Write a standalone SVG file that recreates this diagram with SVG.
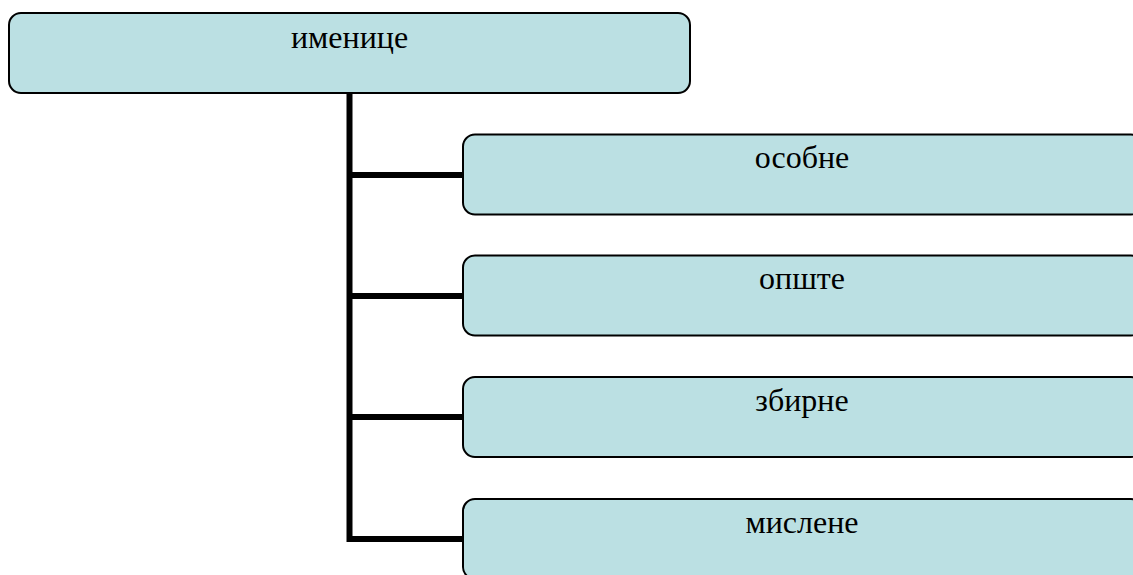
<svg xmlns="http://www.w3.org/2000/svg" width="1133" height="575" viewBox="0 0 1133 575">
<style>
.box{fill:#BBE0E3;stroke:#000;stroke-width:2}
.lbl{font-family:"Liberation Serif","Times New Roman",serif;font-size:32px;fill:#000;text-anchor:middle}
.conn{fill:none;stroke:#000;stroke-width:6}
</style>
<rect width="1133" height="575" fill="#fff"/>
<g id="connectors">
<path class="conn" d="M349.5,94 V539 M349.5,175 H463 M349.5,296 H463 M349.5,417 H463 M346.5,539 H463"/>
</g>
<g id="n0"><rect class="box" x="9" y="13" width="681" height="80" rx="12"/><text class="lbl" x="349.5" y="48">именице</text></g>
<g id="n1"><rect class="box" x="463" y="134.5" width="680" height="80" rx="12"/><text class="lbl" x="802" y="168">особне</text></g>
<g id="n2"><rect class="box" x="463" y="255.5" width="680" height="80" rx="12"/><text class="lbl" x="802" y="289">опште</text></g>
<g id="n3"><rect class="box" x="463" y="377" width="680" height="80" rx="12"/><text class="lbl" x="802" y="411">збирне</text></g>
<g id="n4"><rect class="box" x="463" y="499" width="680" height="80" rx="12"/><text class="lbl" x="802" y="533">мислене</text></g>
</svg>
